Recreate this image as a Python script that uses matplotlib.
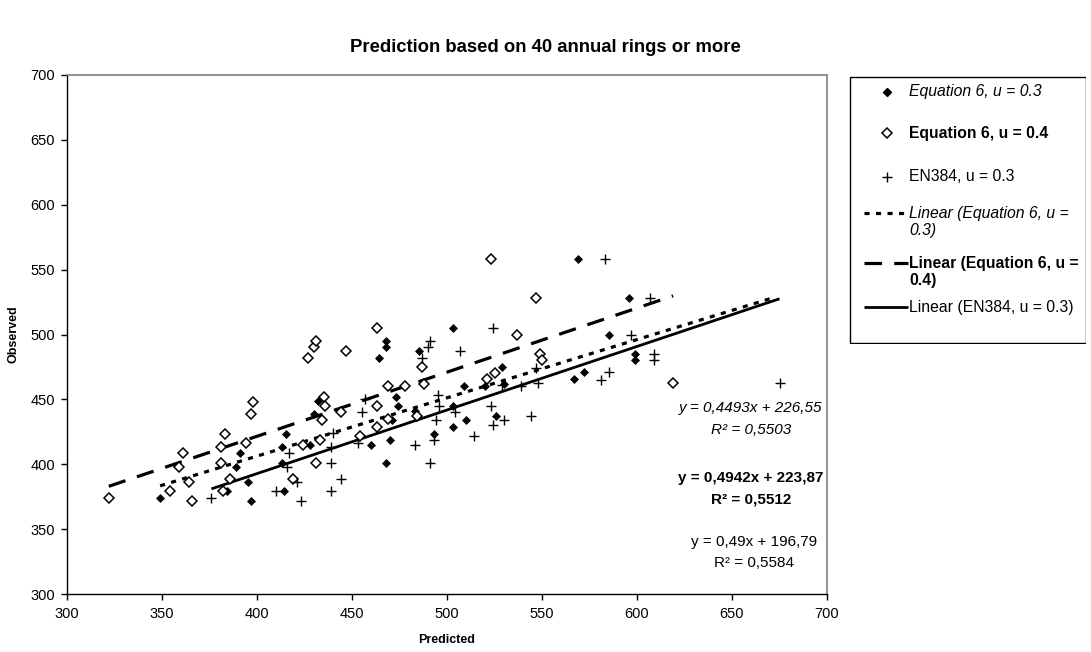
import numpy as np
import matplotlib
matplotlib.use("Agg")
import matplotlib.pyplot as plt
from matplotlib.patches import Rectangle

plt.rcParams['font.family'] = ['Liberation Sans', 'DejaVu Sans']

# ---- data ----
eq6_03_pred = [349, 384, 389, 391, 395, 397, 413, 413, 414, 415, 428, 430, 432, 460,
               464, 468, 468, 468, 470, 471, 473, 474, 483, 485, 493, 503, 503, 503,
               509, 510, 520, 526, 529, 530, 567, 569, 572, 585, 596, 599, 599]
eq6_03_obs = [374, 379, 398, 409, 386, 372, 413, 401, 379, 423, 415, 439, 449, 415,
              482, 495, 490, 401, 419, 434, 452, 445, 441, 487, 423, 505, 445, 429,
              460, 434, 460, 437, 475, 462, 466, 558, 471, 500, 528, 485, 480]

eq6_04_pred = [322, 354, 359, 361, 364, 366, 381, 381, 382, 383, 386, 394, 397, 398,
               419, 424, 427, 430, 431, 431, 433, 434, 435, 436, 444, 447, 454, 463,
               463, 463, 469, 469, 478, 484, 487, 488, 521, 523, 525, 537, 547, 549,
               550, 619]
eq6_04_obs = [374, 379, 398, 409, 386, 372, 413, 401, 379, 423, 389, 416, 439, 448,
              389, 415, 482, 490, 495, 401, 419, 434, 452, 445, 440, 487, 422, 505,
              445, 429, 460, 435, 460, 437, 475, 462, 466, 558, 470, 500, 528, 485,
              480, 463]

en384_pred = [376, 410, 416, 417, 421, 423, 439, 439, 439, 440, 444, 453, 455, 457,
              483, 487, 490, 491, 491, 493, 494, 495, 496, 504, 507, 514, 523, 524,
              524, 529, 530, 539, 544, 547, 548, 581, 583, 585, 597, 607, 609, 609, 675]
en384_obs = [374, 379, 398, 409, 386, 372, 379, 401, 413, 424, 389, 416, 440, 450,
             415, 482, 490, 495, 401, 419, 434, 453, 445, 440, 487, 422, 445, 505,
             430, 461, 434, 460, 437, 474, 463, 465, 558, 471, 500, 528, 485, 480, 463]

# trendlines as printed on the chart: slope, intercept, x extent
trend_slope = [0.4493, 0.4942, 0.49]
trend_icpt = [226.55, 223.87, 196.79]
trend_xmin = [349, 322, 376]
trend_xmax = [673, 619, 675]
eq_labels = [("y = 0,4493x + 226,55", "R\u00b2 = 0,5503"),
             ("y = 0,4942x + 223,87", "R\u00b2 = 0,5512"),
             ("y = 0,49x + 196,79", "R\u00b2 = 0,5584")]
legend_labels = ["Equation 6, u = 0.3", "Equation 6, u = 0.4", "EN384, u = 0.3",
                 "Linear (Equation 6, u =\n0.3)", "Linear (Equation 6, u =\n0.4)",
                 "Linear (EN384, u = 0.3)"]

W, H = 1091, 652
fig = plt.figure(figsize=(W / 100, H / 100), dpi=100)
fig.patch.set_facecolor('white')

L, R, T, B = 67, 827, 75, 594
ax = fig.add_axes([L / W, 1 - B / H, (R - L) / W, (B - T) / H])

# scatter series
ax.plot(eq6_03_pred, eq6_03_obs, linestyle='none', marker='D', markersize=4.4,
        markerfacecolor='black', markeredgecolor='black', markeredgewidth=0.5, zorder=3)
ax.plot(eq6_04_pred, eq6_04_obs, linestyle='none', marker='D', markersize=5.0,
        markerfacecolor='white', markeredgecolor='black', markeredgewidth=1.1, zorder=3)
ax.plot(en384_pred, en384_obs, linestyle='none', marker='+', markersize=7.5,
        color='black', markeredgewidth=1.0, zorder=3)

# trend lines
styles = [dict(lw=2.3, dashes=(1.6, 2.0)),
          dict(lw=2.3, dashes=(5.5, 3.8)),
          dict(lw=2.0, linestyle='-')]
for x0, x1, m, c, st in zip(trend_xmin, trend_xmax, trend_slope, trend_icpt, styles):
    xx = np.array([x0, x1], dtype=float)
    ax.plot(xx, m * xx + c, color='black', solid_capstyle='butt',
            dash_capstyle='butt', zorder=2, **st)

ax.set_xlim(300, 700)
ax.set_ylim(300, 700)
ax.set_xticks(np.arange(300, 701, 50))
ax.set_yticks(np.arange(300, 701, 50))
ax.tick_params(direction='out', length=4.5, width=1, labelsize=10.5, color='black')
ax.tick_params(axis='x', pad=5)
ax.tick_params(axis='y', pad=4)
for s in ['top', 'right']:
    ax.spines[s].set_color('#808080')
    ax.spines[s].set_linewidth(1.2)
for s in ['left', 'bottom']:
    ax.spines[s].set_color('black')
    ax.spines[s].set_linewidth(1.0)

ax.set_xlabel("Predicted", fontsize=9, fontweight='bold', labelpad=9)
ax.set_ylabel("Observed", fontsize=9, fontweight='bold', labelpad=8)

fig.text(0.5, 1 - 47 / H, "Prediction based on 40 annual rings or more",
         ha='center', va='center', fontsize=13.3, fontweight='bold')

# equation annotations
eq_pos = [(0.90, 0.359, 0.316), (0.90, 0.2235, 0.183), (0.904, 0.1008, 0.0597)]
eq_font = [dict(fontstyle='italic'), dict(fontweight='bold'), dict()]
for (l1, l2), (x, y1, y2), f in zip(eq_labels, eq_pos, eq_font):
    ax.text(x, y1, l1, transform=ax.transAxes, ha='center', va='center', fontsize=11, **f)
    ax.text(x, y2, l2, transform=ax.transAxes, ha='center', va='center', fontsize=11, **f)

# legend (manual box)
LL, LR, LT, LB = 849, 1086, 76, 344
lax = fig.add_axes([LL / W, 1 - LB / H, (LR - LL) / W, (LB - LT) / H])
lax.set_xlim(LL, LR)
lax.set_ylim(LB, LT)
lax.axis('off')
lax.add_patch(Rectangle((LL + 0.5, LT + 0.5), LR - LL - 1, LB - LT - 1, fill=False,
                        edgecolor='black', lw=1.0))
mk_x = 887
txt_x = 909
lax.plot([mk_x], [91.7], marker='D', markersize=4.4, color='black', linestyle='none')
lax.plot([mk_x], [133.3], marker='D', markersize=5.0, markerfacecolor='white',
         markeredgecolor='black', markeredgewidth=1.1, linestyle='none')
lax.plot([mk_x], [176.7], marker='+', markersize=7.5, color='black',
         markeredgewidth=1.0, linestyle='none')
line_y = [213.3, 263.3, 307.3]
for yy, st in zip(line_y, styles):
    lax.plot([864, 908], [yy, yy], color='black', solid_capstyle='butt',
             dash_capstyle='butt', **st)
txt_font = [dict(fontstyle='italic'), dict(fontweight='bold'), dict(),
            dict(fontstyle='italic'), dict(fontweight='bold'), dict()]
txt_y = [91.7, 133.3, 176.7, 213.3, 263.3, 307.3]
for lab, yy, f in zip(legend_labels, txt_y, txt_font):
    for i, part in enumerate(lab.split('\n')):
        lax.text(txt_x, yy + i * 17.2, part, ha='left', va='center', fontsize=11.3, **f)

fig.savefig("out.png", dpi=100, facecolor='white')
